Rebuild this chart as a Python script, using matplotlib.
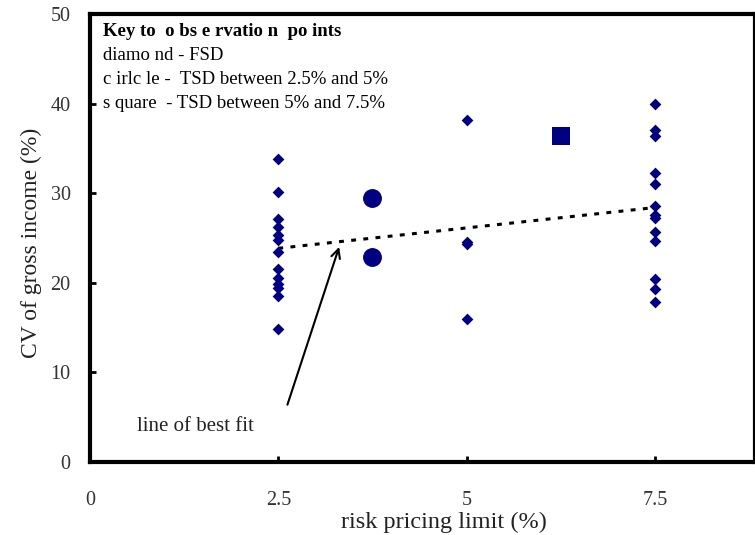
import matplotlib
matplotlib.use("Agg")
import matplotlib.pyplot as plt
import numpy as np

plt.rcParams['font.family'] = ['Liberation Serif', 'DejaVu Serif']

# FSD observations (diamonds)
fsd_x = [2.5]*13 + [5.0]*4 + [7.5]*13
fsd_y = [33.8, 30.1, 27.1, 26.2, 25.3, 24.8, 23.4, 21.5, 20.5, 19.9, 19.4, 18.5, 14.8,
         38.2, 24.6, 24.3, 16.0,
         40.0, 37.1, 36.4, 32.2, 31.0, 28.6, 27.6, 27.2, 25.7, 24.7, 20.4, 19.3, 17.9]
# TSD 2.5%-5% (circles)
circ_x = [3.75, 3.75]
circ_y = [29.5, 22.9]
# TSD 5%-7.5% (square)
sq_x = [6.25]
sq_y = [36.4]
# line of best fit
fit_x = [2.5, 7.5]
fit_y = [23.85, 28.4]

xticks = [0, 2.5, 5, 7.5]
xtick_labels = ['0', '2.5', '5', '7.5']
yticks = [0, 10, 20, 30, 40, 50]

navy = '#000080'

fig = plt.figure(figsize=(7.55, 5.35), dpi=100)
ax = fig.add_axes([90/755, 1-462/535, 665/755, (462-14)/535])

ax.scatter(fsd_x, fsd_y, marker='D', s=36, color=navy, linewidths=0, zorder=3)
ax.scatter(circ_x, circ_y, marker='o', s=185, color=navy, linewidths=0, zorder=3)
ax.scatter(sq_x, sq_y, marker='s', s=150, color=navy, linewidths=0, zorder=3)
ax.plot(fit_x, fit_y, color='black', lw=2.2, linestyle=(0, (1.6, 2.4)), zorder=2)

ax.annotate('', xy=(3.32, 24.3), xytext=(2.61, 6.1),
            arrowprops=dict(arrowstyle='->', color='black', lw=1.5, mutation_scale=16))
ax.text(0.63, 4.0, 'line of best fit', fontsize=15, va='center', ha='left', color='#222222')

kfs = 13.5
ax.text(0.17, 48.1, 'Key to  o bs e rvatio n  po ints', fontsize=kfs, fontweight='bold',
        va='center', ha='left')
ax.text(0.17, 45.4, 'diamo nd - FSD', fontsize=kfs, va='center', ha='left')
ax.text(0.17, 42.7, 'c irlc le -  TSD between 2.5% and 5%', fontsize=kfs, va='center', ha='left')
ax.text(0.17, 40.0, 's quare  - TSD between 5% and 7.5%', fontsize=kfs, va='center', ha='left')

ax.set_xlim(0, 8.83)
ax.set_ylim(0, 50)
ax.set_xticks(xticks)
ax.set_xticklabels(xtick_labels)
ax.set_yticks(yticks)
ax.tick_params(axis='both', direction='in', length=4, width=2, labelsize=14.5,
               labelcolor='#333333')
ax.tick_params(axis='x', pad=21)
ax.tick_params(axis='y', pad=14)
for s in ax.spines.values():
    s.set_linewidth(3)

ax.set_xlabel('risk pricing limit (%)', fontsize=17.5, color='#222222')
ax.xaxis.set_label_coords(0.532, -0.112)
ax.set_ylabel('CV of gross income (%)', fontsize=17, color='#222222')
ax.yaxis.set_label_coords(-0.072, 0.49)

fig.savefig('out.png', dpi=100)
